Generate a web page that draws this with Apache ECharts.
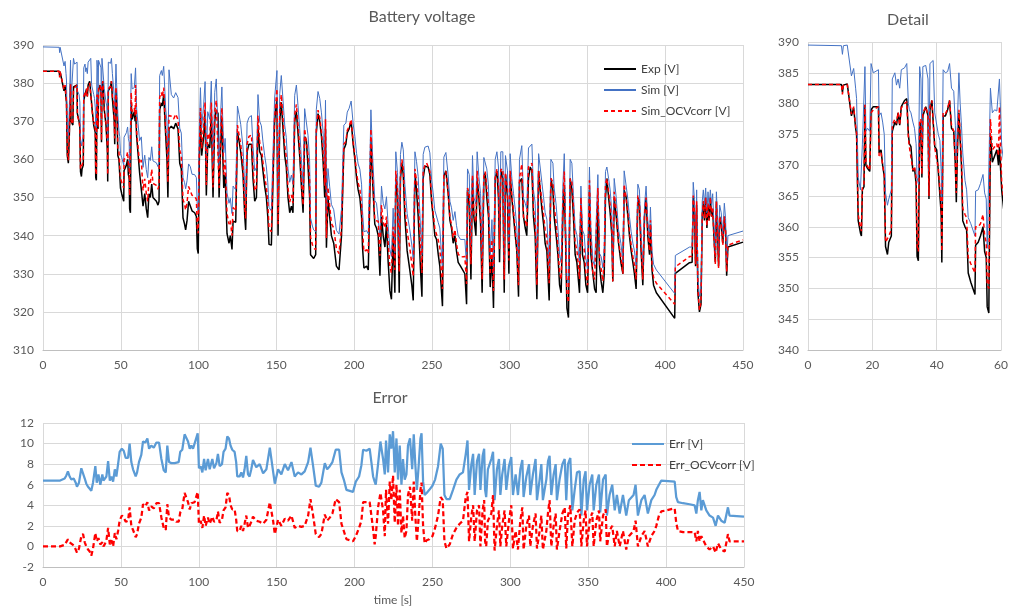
<!DOCTYPE html>
<html>
<head>
<meta charset="utf-8">
<script src="https://cdn.jsdelivr.net/npm/echarts@6/dist/echarts.min.js"></script>
<style>
html,body{margin:0;padding:0;background:#fff;}
#chart{width:1011px;height:612px;}
</style>
</head>
<body>
<div id="chart"></div>
<script>
// ---------- Battery voltage data (time [s], Exp, Sim, Sim_OCVcorr) ----------
const time = [
0,10.4,10.7,11.0,12.2,
13.5,14.2,14.8,15.1,15.6,16.3,16.6,16.9,17.4,17.7,18.0,18.5,19.2,19.6,
20.3,21.9,22.1,22.7,23.2,23.7,24.1,24.7,25.1,25.9,26.2,27.0,27.5,28.0,28.5,29.0,
30.0,30.7,31.2,31.5,32.0,32.6,33.1,33.6,33.9,34.3,34.7,35.1,35.4,35.7,36.6,37.3,37.6,37.9,38.5,38.9,39.4,
40.0,40.5,41.0,41.4,41.6,42.0,42.7,43.4,44.0,44.6,45.3,45.8,46.1,46.5,46.9,47.3,47.7,48.1,48.8,49.3,49.8,
50.6,51.9,52.1,52.9,53.6,54.4,54.9,55.4,55.7,56.2,56.7,57.3,58.0,58.7,59.2,59.5,
60.2,61.0,62.1,63.2,64.3,65.4,66.4,67.3,68.1,69.0,69.9,
70.7,71.8,72.9,73.9,74.6,75.0,76.1,76.7,77.6,78.9,79.7,
80.3,81.0,82.5,84.0,85.3,86.8,87.9,88.9,
90.0,91.0,91.7,92.6,93.6,94.7,95.8,97.5,98.6,99.2,99.8,
100.5,101.2,102.0,103.3,104.2,105.0,105.9,107.2,108.2,109.3,
110.4,111.4,112.5,113.2,114.3,115.0,115.4,116.2,117.1,118.3,119.6,
120.4,121.5,122.2,123.9,125.0,126.0,127.1,128.6,129.7,
130.3,131.2,132.4,134.0,135.0,136.1,137.2,138.2,139.3,
140.4,141.4,142.5,143.6,144.5,145.3,146.8,147.9,148.9,
150.4,151.1,152.2,153.2,154.3,155.4,156.4,157.5,158.6,159.7,
160.7,161.8,162.9,163.9,165.0,166.1,167.2,167.6,168.2,169.3,
170.4,171.4,172.0,173.2,174.0,175.3,175.7,176.8,177.9,179.0,
180.0,181.1,181.6,182.2,183.2,184.3,185.4,186.9,188.6,
190.3,191.9,193.4,194.7,195.6,196.8,198.1,199.4,
200.5,201.6,202.6,203.7,204.8,205.4,206.3,208.0,209.1,
210.1,210.8,211.8,213.3,214.4,215.5,216.6,217.6,218.7,219.8,
220.8,221.9,223.0,224.0,225.1,226.2,226.8,227.9,229.0,229.8,
230.7,231.6,232.6,234.1,235.8,237.1,238.0,239.1,
240.1,241.2,242.7,243.6,244.4,245.5,246.6,247.6,248.7,249.8,
250.8,251.9,253.0,254.1,255.1,256.8,257.7,259.0,
260.5,261.6,262.6,263.7,264.8,265.8,266.9,268.4,
271.2,272.3,272.9,274.0,275.1,276.1,277.0,278.3,279.1,
280.2,281.3,282.3,283.4,284.3,285.3,286.4,287.5,288.6,289.6,
290.7,291.8,292.8,293.5,294.3,295.6,296.5,297.3,298.6,299.5,
300.3,301.4,302.5,303.6,304.6,305.7,306.3,307.8,308.9,
310.0,311.0,312.1,313.2,314.3,315.3,316.4,317.5,318.6,319.6,
320.7,321.8,322.8,323.9,325.4,326.5,327.8,328.6,329.9,
331.0,332.1,333.1,334.2,335.1,335.9,336.8,337.8,338.9,
340.0,341.0,342.1,343.2,344.9,345.8,346.8,347.9,349.0,
350.1,351.3,352.2,353.5,354.6,355.6,356.7,357.8,358.8,359.9,
360.8,361.6,362.5,363.6,364.6,365.7,366.3,367.2,368.5,
370.0,371.5,372.8,373.6,374.9,376.0,377.0,378.1,379.2,
380.2,381.3,382.4,383.4,384.5,385.6,386.7,387.7,388.8,389.9,
390.5,391.5,392.5,394.3,406.1,406.5,415.6,417.3,
418.0,418.8,419.5,420.2,421.0,422.0,423.0,423.8,424.5,425.2,
426.0,426.8,427.5,428.2,429.0,429.8,430.5,431.3,432.2,432.9,
433.6,434.3,435.0,436.0,437.0,438.0,438.8,439.5,440.3,441.0,450.0
];
const expV = [
383.1,383.1,381.8,383.0,383.2,
378.0,379.3,376.0,375.0,361.0,359.0,358.5,366.0,366.5,379.8,370.0,369.5,369.0,379.0,
379.5,379.5,372.0,372.5,370.0,368.2,356.8,355.5,357.5,358.5,375.5,377.0,376.5,378.5,376.5,379.5,
380.5,380.8,375.0,373.5,373.0,369.0,369.5,367.0,355.2,354.5,376.0,377.0,368.0,378.0,379.5,378.0,364.5,379.0,380.5,380.5,373.0,
372.5,369.0,369.0,362.0,354.2,378.0,378.0,379.0,380.5,376.0,375.5,370.0,364.0,373.5,378.5,374.0,370.0,361.0,360.0,359.5,352.5,
351.0,349.0,357.0,357.5,358.5,360.0,356.0,355.0,347.0,346.0,375.0,370.5,371.5,372.5,370.0,373.0,
366.0,362.0,356.5,357.0,347.7,351.0,347.0,344.7,351.0,350.0,353.5,
350.0,350.0,349.0,348.0,349.0,373.0,374.8,374.0,377.0,366.0,360.0,
350.0,368.0,368.7,368.0,369.5,368.0,359.0,357.5,
344.7,343.0,341.5,344.0,349.0,348.5,346.5,346.0,345.0,336.5,335.3,
360.0,371.0,361.0,366.0,373.0,350.5,364.0,363.0,372.0,350.0,
370.0,373.0,372.0,350.0,365.0,371.0,364.0,352.5,356.0,340.5,338.0,
340.0,336.4,343.8,343.5,367.0,365.0,362.0,356.0,345.0,
341.5,362.0,364.0,364.0,355.0,349.0,350.0,369.0,362.0,
361.0,357.0,353.0,350.0,345.0,337.7,337.5,355.0,370.0,
376.0,340.0,370.0,375.0,368.0,361.0,358.0,350.0,346.0,347.7,
346.0,370.0,372.5,367.0,361.0,353.0,346.0,345.5,366.0,365.0,
358.0,350.0,335.0,334.6,334.0,335.0,367.0,372.0,370.0,366.0,
360.0,350.0,368.0,336.8,350.0,345.0,340.0,338.0,332.0,
331.0,340.0,362.6,364.0,367.0,368.0,370.0,364.0,
360.0,355.0,352.0,350.0,345.0,337.0,331.5,332.0,331.0,
350.0,365.0,355.0,343.0,342.0,340.0,329.5,345.0,340.0,337.0,
343.0,333.0,325.5,323.3,340.0,325.0,355.0,350.0,325.0,355.0,
359.0,356.0,345.0,336.0,331.0,327.0,323.0,356.5,
352.0,345.0,331.0,324.0,355.0,358.2,358.5,358.0,356.0,349.0,
345.0,340.0,339.0,335.0,332.0,321.5,355.6,357.0,
351.0,344.0,342.0,338.0,340.0,336.0,333.0,332.0,
330.0,322.0,352.0,348.0,328.5,355.0,345.0,340.0,355.0,
350.0,343.0,325.0,355.0,356.5,350.0,345.0,326.5,335.0,321.0,
355.0,357.0,350.0,333.0,357.0,355.0,325.0,356.0,350.0,330.0,
356.0,350.0,345.0,340.0,336.0,324.0,354.0,355.0,345.0,
342.0,340.0,355.0,358.0,357.0,345.0,340.0,323.3,357.0,352.0,
347.0,343.0,338.0,336.0,323.0,355.0,352.0,345.0,340.0,
335.0,327.0,325.0,345.0,353.0,340.0,321.0,318.5,355.0,
352.0,345.0,335.0,333.0,325.0,350.0,335.0,333.0,327.0,
325.0,352.0,335.0,330.0,326.0,325.0,349.0,332.0,328.0,325.0,
330.0,350.0,355.0,350.0,346.0,340.0,328.0,350.0,345.0,
338.0,333.0,330.0,352.0,350.0,345.0,340.0,336.0,333.0,
330.0,326.0,350.0,348.0,336.0,327.0,345.0,350.0,340.0,335.0,
343.0,331.0,327.0,325.0,318.3,330.1,332.9,333.0,
350.0,346.0,332.0,348.0,325.0,320.0,322.0,345.0,349.0,344.0,
350.0,342.0,348.0,344.0,350.0,345.0,347.0,340.0,333.0,349.0,
341.0,332.0,345.0,343.0,338.0,345.0,341.0,329.5,337.0,337.5,338.3
];
const simV = [
389.5,389.4,388.0,389.4,389.5,
384.5,385.7,382.5,380.8,368.0,366.0,365.8,373.3,373.0,386.0,375.5,376.0,375.5,386.5,
385.0,385.5,378.0,378.5,377.0,375.0,365.5,363.5,364.5,366.0,384.0,385.0,383.0,384.0,382.5,385.5,
385.8,386.5,380.0,379.0,378.5,377.0,376.0,373.5,368.0,367.0,386.0,384.0,374.0,386.0,386.2,384.0,369.0,386.5,386.8,387.0,378.5,
378.2,375.0,374.0,369.0,364.0,385.5,385.0,385.2,386.5,382.5,382.0,376.5,371.0,378.0,385.0,380.0,376.5,372.0,367.5,366.0,361.5,
360.5,358.5,365.8,366.0,367.0,368.5,365.5,364.5,356.5,356.5,382.5,378.5,379.0,378.8,378.5,384.0,
373.2,369.8,364.9,365.9,357.9,361.1,357.3,355.2,360.5,359.7,363.3,
359.6,359.8,359.1,358.1,359.1,382.0,383.3,382.0,384.4,373.2,369.8,
359.5,383.5,377.0,376.1,377.5,376.2,368.2,366.9,
355.2,353.9,352.3,354.4,358.8,358.1,356.1,356.0,355.2,347.5,346.3,
367.6,378.8,368.2,374.5,380.4,359.0,372.5,370.5,380.5,358.0,
377.6,381.1,381.0,358.0,373.0,379.0,372.5,361.7,365.5,351.2,348.5,
349.8,345.8,353.0,352.0,374.0,371.8,369.2,363.0,352.5,
350.1,369.5,371.0,371.5,363.4,357.0,357.9,377.0,370.0,
368.8,364.6,361.0,358.0,354.0,347.4,346.5,362.3,376.1,
383.3,348.0,377.3,382.0,375.5,369.0,365.7,357.5,354.0,355.9,
353.5,376.8,379.5,374.2,368.1,360.0,353.2,352.8,373.3,372.8,
366.2,359.5,344.6,342.5,341.5,341.0,373.0,377.8,376.0,372.2,
367.5,358.1,375.5,344.5,357.6,352.8,348.2,346.8,341.4,
340.4,347.0,369.0,369.5,372.4,373.4,375.3,369.3,
366.0,361.5,358.8,357.4,353.5,346.4,341.0,341.3,340.5,
358.5,373.0,361.8,349.2,348.5,348.0,339.7,353.0,348.5,347.0,
350.2,342.5,336.4,334.5,347.2,335.5,362.0,356.5,334.8,361.3,
364.5,362.5,353.5,345.8,341.5,337.5,333.9,362.0,
359.5,355.5,342.0,335.0,361.3,363.2,363.7,363.5,361.7,354.8,
351.2,346.6,346.6,343.4,342.0,331.0,360.6,361.8,
355.6,349.0,347.3,344.0,346.3,342.7,340.0,339.0,
339.0,332.0,357.5,356.0,337.5,361.0,350.0,348.3,362.0,
355.5,351.0,334.0,360.5,361.0,357.5,353.0,335.0,344.2,330.0,
360.0,362.0,358.0,341.0,362.0,362.0,333.5,361.0,357.0,338.0,
361.5,355.0,351.0,346.8,342.0,332.0,360.0,363.6,349.8,
348.5,347.0,363.0,363.0,364.0,352.0,348.5,331.8,361.5,358.0,
354.0,350.0,346.0,344.3,332.0,360.0,359.0,352.5,348.0,
342.0,335.0,333.0,353.0,361.5,345.0,329.0,327.0,360.0,
359.0,350.5,342.0,340.2,332.3,353.0,341.5,340.3,334.0,
331.0,358.0,342.0,333.5,332.0,331.5,356.0,335.3,334.5,331.5,
337.0,356.8,358.0,355.0,352.0,346.0,331.5,355.0,350.0,
341.5,338.0,333.0,357.0,353.0,349.5,345.0,341.0,338.0,
336.0,332.0,353.5,352.0,340.5,332.0,348.0,353.0,344.0,339.5,
347.5,336.0,332.5,331.0,324.8,334.8,337.0,337.0,
354.0,349.5,335.5,352.0,329.0,324.0,326.0,349.0,352.0,348.0,
352.5,346.0,351.5,347.5,352.0,348.0,351.0,343.0,335.5,351.5,
344.5,335.0,348.0,346.0,340.0,348.5,344.5,333.0,340.0,340.5,341.2
];
const ocvV = [
383.1,383.1,381.5,383.0,383.1,
378.3,379.5,376.4,375.3,362.0,359.8,359.3,366.5,367.0,379.8,370.3,370.0,369.2,378.5,
379.0,379.5,371.5,372.0,370.0,368.5,357.5,357.5,358.5,359.5,376.5,377.5,376.8,378.6,376.5,379.3,
380.0,380.3,374.5,373.0,372.8,369.2,369.8,368.0,357.0,356.0,377.0,377.5,368.5,378.5,379.5,378.0,365.0,379.5,380.5,380.3,372.8,
372.5,369.5,369.5,363.5,356.0,378.5,378.3,379.2,380.5,376.5,375.5,370.5,365.5,374.0,379.0,375.0,371.0,363.0,362.0,361.5,355.0,
354.0,352.5,360.0,360.0,360.5,362.0,358.5,357.5,350.5,350.0,377.5,372.5,373.0,373.5,371.5,379.5,
367.2,363.7,358.9,359.8,351.8,354.9,351.1,349.0,354.5,353.8,357.4,
353.7,353.9,353.2,352.2,353.2,376.3,377.6,376.3,378.8,367.6,364.1,
354.0,371.5,371.3,370.6,371.9,370.4,362.3,361.1,
349.5,348.2,346.7,348.6,352.9,352.4,350.6,350.3,349.5,341.8,340.6,
362.2,373.5,362.8,369.0,375.0,353.3,366.8,365.2,374.9,352.6,
372.4,375.5,375.4,352.5,367.5,373.5,367.0,356.0,359.8,345.7,343.0,
344.0,340.0,347.4,346.5,369.0,366.5,364.0,357.8,347.2,
344.5,364.0,366.0,366.4,357.9,351.7,352.6,371.5,364.4,
363.3,359.2,355.6,352.6,348.5,342.0,341.0,357.5,371.2,
378.5,343.0,372.4,377.0,370.4,363.7,360.6,352.5,348.8,350.7,
348.5,371.8,374.4,369.0,363.0,354.9,348.0,347.5,368.0,367.6,
361.0,354.5,339.6,337.6,336.7,336.3,368.2,372.9,371.0,367.2,
362.5,353.1,370.5,339.4,352.7,347.8,343.2,342.0,336.6,
335.3,342.0,364.0,364.7,367.6,368.6,370.5,364.5,
361.0,356.3,353.8,352.2,348.0,341.3,335.8,336.3,335.3,
353.3,368.0,356.7,344.0,344.0,343.8,334.7,348.0,343.5,342.0,
345.0,338.0,331.8,330.2,342.3,331.0,357.0,352.0,330.5,356.3,
360.0,357.5,348.0,341.0,336.8,332.5,329.3,357.5,
354.5,350.0,336.5,330.2,357.0,358.5,359.1,358.7,356.9,350.0,
346.0,341.8,342.0,338.8,336.8,326.0,356.1,356.8,
351.1,344.6,343.0,339.5,341.6,337.9,335.2,334.4,
334.5,327.3,352.5,351.0,332.5,356.0,345.5,343.5,357.0,
350.5,346.0,328.5,355.5,356.8,352.5,347.8,329.8,339.0,325.5,
355.0,357.5,353.0,336.5,357.3,357.5,328.5,356.5,352.0,333.5,
357.0,350.3,346.3,341.6,336.5,327.0,355.0,358.8,344.8,
344.0,342.3,358.0,358.3,359.0,347.0,343.2,327.0,357.0,353.0,
349.0,345.5,341.5,339.3,327.5,355.0,354.0,347.8,343.2,
337.0,330.2,328.5,348.5,356.8,340.0,324.5,322.5,355.0,
354.0,347.5,338.0,336.3,328.6,350.0,337.5,336.5,330.0,
327.0,354.5,338.3,330.0,328.5,328.0,352.5,332.5,331.3,328.0,
333.6,353.5,355.0,351.5,348.0,342.0,328.0,351.5,346.5,
338.3,334.5,330.0,353.5,349.7,346.0,341.3,337.5,334.5,
332.3,328.5,350.5,348.8,337.0,328.5,345.5,350.0,340.8,336.0,
344.0,332.5,329.0,327.5,322.0,331.8,334.5,334.5,
350.5,346.5,332.5,349.0,326.0,320.5,322.5,345.5,349.0,344.5,
350.0,342.5,348.5,344.0,350.0,345.0,347.5,339.5,332.5,349.0,
341.5,331.5,345.0,343.0,337.5,345.0,341.0,330.5,337.5,338.0,338.9
];

// ---------- Error data (time [s], Err, Err_OCVcorr) ----------
const errTime = [
0,11.0,11.8,13.9,15.0,16.0,17.1,18.2,19.7,21.0,21.8,23.1,24.6,25.7,26.8,27.8,28.9,30.0,31.0,32.1,
33.6,34.5,35.6,36.8,38.1,38.8,39.6,40.7,41.8,42.9,43.9,45.0,46.1,47.1,48.2,49.2,50.6,51.8,53.1,54.6,55.6,56.7,57.8,59.5,
60.4,61.6,63.1,64.2,65.7,67.0,68.1,69.5,71.1,72.8,74.5,76.0,77.5,78.8,79.8,80.9,82.4,84.5,85.6,87.1,88.1,89.4,
90.9,92.0,93.1,94.2,95.2,96.3,97.3,98.4,99.3,100.1,101.2,102.3,103.4,104.4,105.9,107.0,108.7,109.8,111.3,112.3,113.4,114.9,115.9,117.2,118.3,119.4,120.4,121.5,123.0,124.0,124.7,
126.2,127.3,128.4,129.4,130.5,131.6,132.6,133.7,134.8,136.9,139.1,141.3,143.4,145.6,147.7,148.8,150.9,153.0,155.2,157.3,159.5,
161.6,163.7,165.9,168.0,170.2,171.7,173.4,175.1,177.2,178.7,180.9,182.4,184.1,185.8,187.9,190.1,191.6,193.1,194.8,196.9,199.0,
200.8,202.9,204.4,205.5,207.6,209.7,210.8,211.9,212.9,213.6,215.1,216.6,218.3,219.4,220.2,221.5,222.6,223.6,224.7,225.8,226.9,227.9,229.0,230.1,
231.1,232.2,233.3,234.3,235.6,237.0,238.0,239.0,240.0,241.0,242.3,243.0,244.0,245.0,246.3,248.0,250.0,251.7,253.6,255.3,256.6,257.7,259.0,
261.1,263.2,265.4,267.5,269.6,271.4,272.5,273.5,275.0,276.1,277.1,278.6,279.9,280.8,282.2,283.2,283.8,284.5,285.6,287.8,288.9,289.9,
291.4,292.7,293.6,294.8,296.3,297.4,299.1,300.6,301.7,303.4,304.9,306.4,307.7,308.5,310.3,312.0,312.8,314.5,316.2,317.1,318.8,319.9,320.9,
323.1,324.2,325.2,326.3,327.8,329.1,329.9,331.6,333.4,334.9,335.9,337.0,338.5,339.8,341.3,342.8,344.5,345.6,347.1,348.3,349.2,
350.9,352.6,353.5,355.2,356.9,357.7,359.5,361.2,362.0,363.7,365.4,367.0,368.4,370.2,372.3,374.4,376.1,379.1,380.4,381.9,
384.1,386.2,388.3,390.5,392.6,393.7,395.4,396.9,398.0,405.5,406.5,407.6,410.8,415.1,418.3,419.4,420.4,421.5,422.6,423.6,
425.8,427.9,430.1,431.8,433.3,435.4,437.6,439.7,440.7,450.0
];
const errV = [
6.4,6.4,6.3,6.6,6.9,7.3,6.8,6.5,6.6,6.2,5.8,6.2,7.6,7.7,6.6,6.1,5.8,5.6,5.4,6.2,
7.8,6.2,7.0,6.0,7.0,6.4,6.3,6.8,8.3,6.4,6.8,6.3,7.5,6.8,8.0,9.2,9.5,9.3,8.6,8.6,10.0,8.2,7.5,6.8,
7.2,8.2,8.9,10.2,10.1,10.5,9.5,9.8,9.6,10.1,10.1,8.5,7.4,7.2,9.8,8.2,8.1,8.1,8.0,8.2,9.2,9.4,
10.9,10.8,10.2,9.5,9.8,9.5,10.0,10.1,11.0,7.6,7.8,7.2,8.5,7.4,8.5,7.5,8.5,7.6,8.1,9.0,7.8,8.0,9.2,9.5,10.7,10.5,9.8,9.4,9.2,8.2,6.8,
6.8,7.2,6.7,7.5,8.8,7.0,6.8,7.5,8.4,7.7,8.0,7.1,7.5,9.6,7.3,6.1,7.5,7.0,8.0,7.4,8.2,
6.8,7.2,7.0,7.3,8.2,9.6,7.8,5.9,5.8,6.2,8.1,7.5,7.8,8.2,9.4,9.4,7.2,6.5,5.5,5.4,5.3,
6.3,6.8,7.9,9.4,9.3,9.5,8.2,6.8,6.3,6.0,8.0,10.2,8.5,7.0,10.3,7.2,10.9,9.5,11.2,7.2,10.5,6.5,9.8,6.0,
8.5,6.5,7.0,9.8,10.5,7.5,10.9,8.0,5.5,7.5,10.5,11.0,6.3,5.0,5.2,5.5,5.9,6.5,7.8,10.0,9.5,5.0,4.6,
4.6,5.5,6.5,7.0,7.2,9.0,10.3,5.5,8.0,9.0,5.0,8.3,9.0,5.5,8.8,9.5,5.5,4.8,7.5,8.5,9.2,4.5,
7.5,8.5,5.0,7.0,8.5,5.5,7.8,8.7,5.0,7.0,5.0,7.5,8.4,4.8,6.8,8.0,5.0,7.0,8.5,4.5,6.5,8.0,4.5,
6.5,8.3,8.8,5.0,7.0,8.0,4.5,6.5,8.0,8.5,4.5,8.0,8.6,3.5,5.5,7.2,7.3,3.0,6.5,7.3,3.5,
6.0,7.0,3.5,6.0,7.0,3.3,6.5,7.0,3.0,5.0,6.0,3.5,5.0,3.2,5.0,3.0,4.5,5.0,6.0,3.0,
4.5,5.0,3.2,4.5,5.0,5.5,6.0,6.4,6.4,6.3,4.8,4.3,4.2,4.1,4.0,3.2,4.5,5.3,3.5,4.5,
3.5,3.0,2.8,2.0,3.0,2.5,2.3,3.8,3.0,2.9
];
const errOcvV = [
0.0,0.0,-0.05,0.15,0.3,0.7,0.4,0.3,0.1,-0.3,-0.6,-0.2,1.0,1.2,0.4,0.0,-0.3,-0.5,-0.9,-0.2,
1.3,0.5,0.8,0.2,0.4,0.0,0.2,0.6,1.8,0.2,0.6,0.0,1.3,0.7,1.5,2.5,3.0,2.8,2.4,2.5,3.8,2.0,1.6,0.9,
1.2,2.2,2.8,4.1,3.9,4.3,3.5,3.9,3.7,4.2,4.2,2.8,1.8,1.6,4.1,2.8,2.6,2.6,2.4,2.4,3.3,3.6,
5.2,5.2,4.3,3.6,4.2,4.1,4.3,4.4,5.3,2.2,2.5,1.8,3.0,2.0,2.8,2.2,2.9,2.4,2.5,3.4,2.3,2.6,3.5,3.8,5.2,5.0,4.0,3.6,3.6,2.6,1.5,
1.5,2.0,1.5,2.2,3.0,1.8,2.0,2.4,2.9,2.5,2.4,2.2,2.6,4.3,2.5,1.2,2.6,2.0,2.7,2.5,3.0,
1.8,2.0,1.9,2.0,3.0,4.6,3.0,1.2,0.9,1.2,3.1,2.5,2.8,3.2,4.6,4.3,2.2,1.5,0.7,0.6,0.5,
1.0,1.8,2.5,4.3,4.3,4.3,3.0,1.7,0.2,1.0,3.8,5.2,3.5,1.0,5.5,2.2,6.3,4.5,6.9,2.3,6.0,2.0,5.5,1.3,
3.0,0.8,1.5,5.0,5.8,2.5,6.3,3.0,0.5,2.5,5.5,6.2,2.0,0.3,0.6,0.7,1.0,1.8,3.0,4.8,4.5,0.5,-0.2,
0.2,1.2,1.8,2.2,2.5,4.8,5.3,0.5,3.0,4.0,0.5,3.5,4.0,0.0,3.5,4.5,0.5,0.0,2.5,3.2,5.0,-0.4,
2.0,3.5,0.0,2.0,3.5,0.0,2.5,4.0,-0.2,1.5,-0.3,2.5,3.8,-0.3,2.0,3.0,0.0,2.0,3.2,-0.2,1.5,3.0,-0.3,
1.5,3.3,4.5,0.0,2.0,3.2,-0.3,1.5,3.2,3.8,-0.2,3.0,4.0,0.0,2.5,3.3,3.6,0.0,2.5,3.5,0.0,
2.5,3.3,0.0,2.5,3.5,0.5,3.0,3.6,0.0,1.5,2.0,0.0,1.5,0.0,1.5,-0.3,1.0,1.5,2.5,0.0,
1.0,1.5,0.0,1.0,1.5,2.0,3.0,3.4,3.5,3.7,2.3,1.5,1.4,1.4,1.4,0.5,1.5,0.5,1.0,1.0,
0.0,-0.3,0.0,-0.6,0.3,-0.3,-0.5,1.2,0.5,0.5
];

// ---------- chart ----------
function pairs(xs, ys) {
  const out = [];
  const n = Math.min(xs.length, ys.length);
  for (let i = 0; i < n; i++) out.push([xs[i], ys[i]]);
  return out;
}
const FONT = 'Lato, "Liberation Sans", sans-serif';
const labelStyle = { color: '#595959', fontSize: 12, fontFamily: FONT };
const gridLine = { show: true, lineStyle: { color: '#d9d9d9', width: 1 } };
function xAx(gi, min, max, interval) {
  return { type: 'value', gridIndex: gi, min: min, max: max, interval: interval,
    axisLine: { show: true, onZero: false, lineStyle: { color: '#bfbfbf' } },
    axisTick: { show: false }, splitLine: gridLine,
    axisLabel: Object.assign({ margin: 9 }, labelStyle) };
}
function yAx(gi, min, max, interval) {
  return { type: 'value', gridIndex: gi, min: min, max: max, interval: interval,
    axisLine: { show: false }, axisTick: { show: false }, splitLine: gridLine,
    axisLabel: Object.assign({ margin: 9 }, labelStyle) };
}
const BLACK = '#000000', BLUE = '#4472C4', RED = '#FF0000', EBLUE = '#5B9BD5';
function volt(name, ys, color, width, dashed, xi, z) {
  return { name: name, type: 'line', xAxisIndex: xi, yAxisIndex: xi, data: pairs(time, ys),
    symbol: 'none', showSymbol: false, clip: true, z: z,
    lineStyle: { color: color, width: width, type: dashed ? [4, 3] : 'solid' },
    itemStyle: { color: color } };
}
const legendCommon = {
  orient: 'vertical', itemWidth: 32, itemHeight: 14, itemGap: 9,
  itemStyle: { opacity: 0, borderWidth: 0 },
  textStyle: { color: '#404040', fontSize: 12, fontFamily: FONT }
};
const chart = echarts.init(document.getElementById('chart'), null, { renderer: 'canvas' });
chart.setOption({
  animation: false,
  backgroundColor: '#ffffff',
  textStyle: { fontFamily: FONT },
  grid: [
    { left: 43, right: 268, top: 45, bottom: 262 },
    { left: 808, right: 6, top: 42, bottom: 262 },
    { left: 43, right: 267, top: 423, bottom: 45 }
  ],
  xAxis: [ xAx(0, 0, 450, 50), xAx(1, 0, 60, 20), xAx(2, 0, 450, 50) ],
  yAxis: [ yAx(0, 310, 390, 10), yAx(1, 340, 390, 5), yAx(2, -2, 12, 2) ],
  legend: [
    Object.assign({ data: ['Exp [V]', 'Sim [V]', 'Sim_OCVcorr [V]'], left: 598, top: 58 }, legendCommon),
    Object.assign({ data: ['Err [V]', 'Err_OCVcorr [V]'], left: 626, top: 433 }, legendCommon)
  ],
  graphic: [
    { type: 'text', x: 422, y: 17, style: { text: 'Battery voltage', align: 'center', verticalAlign: 'middle', fill: '#595959', font: '16px ' + FONT } },
    { type: 'text', x: 908, y: 20, style: { text: 'Detail', align: 'center', verticalAlign: 'middle', fill: '#595959', font: '16px ' + FONT } },
    { type: 'text', x: 390, y: 398, style: { text: 'Error', align: 'center', verticalAlign: 'middle', fill: '#595959', font: '16px ' + FONT } },
    { type: 'text', x: 393, y: 600, style: { text: 'time [s]', align: 'center', verticalAlign: 'middle', fill: '#595959', font: '12px ' + FONT } }
  ],
  series: [
    volt('Exp [V]', expV, BLACK, 1.5, false, 0, 2),
    volt('Sim [V]', simV, BLUE, 1, false, 0, 3),
    volt('Sim_OCVcorr [V]', ocvV, RED, 1.5, true, 0, 4),
    volt('Exp [V]', expV, BLACK, 1.5, false, 1, 2),
    volt('Sim [V]', simV, BLUE, 1, false, 1, 3),
    volt('Sim_OCVcorr [V]', ocvV, RED, 1.5, true, 1, 4),
    { name: 'Err [V]', type: 'line', xAxisIndex: 2, yAxisIndex: 2, data: pairs(errTime, errV),
      symbol: 'none', showSymbol: false, z: 3,
      lineStyle: { color: EBLUE, width: 2.25 }, itemStyle: { color: EBLUE } },
    { name: 'Err_OCVcorr [V]', type: 'line', xAxisIndex: 2, yAxisIndex: 2, data: pairs(errTime, errOcvV),
      symbol: 'none', showSymbol: false, z: 4,
      lineStyle: { color: RED, width: 2.25, type: [5, 3] }, itemStyle: { color: RED } }
  ]
});
</script>
</body>
</html>
